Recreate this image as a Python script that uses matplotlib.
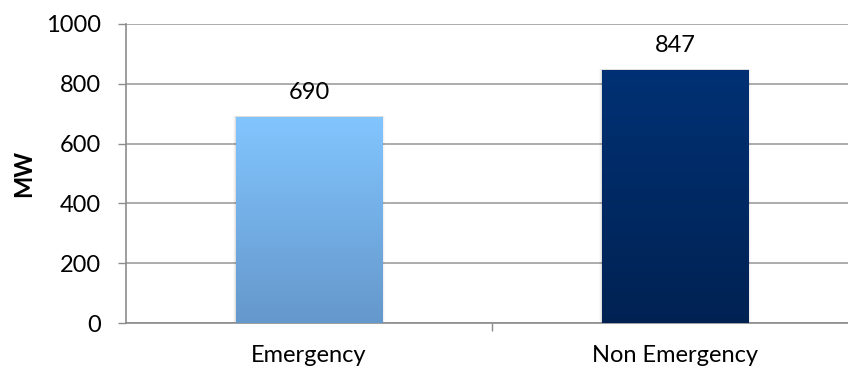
import numpy as np
import matplotlib.pyplot as plt
from matplotlib.colors import LinearSegmentedColormap

categories = ["Emergency", "Non Emergency"]
values = [690, 847]
yticks = [0, 200, 400, 600, 800, 1000]
top_colors = ["#82C5FF", "#003174"]
bottom_colors = ["#6598CB", "#002253"]

plt.rcParams['font.family'] = ['Lato', 'DejaVu Sans']

fig = plt.figure(figsize=(8.48, 3.71), dpi=100)
ax = fig.add_axes([126 / 848, 1 - 323 / 371, (858 - 126) / 848, (323 - 24) / 371])

x = np.arange(len(categories))
bars = ax.bar(x, values, width=0.40, color="none", edgecolor="none", zorder=3)

grad = np.linspace(0, 1, 256).reshape(-1, 1)
for b, v, c0, c1 in zip(bars, values, top_colors, bottom_colors):
    cmap = LinearSegmentedColormap.from_list("g", [c1, c0])
    x0, w, h = b.get_x(), b.get_width(), b.get_height()
    # soft shadow
    for i, a in enumerate([0.07, 0.04, 0.02]):
        d = 0.003 * (i + 1)
        ax.add_patch(plt.Rectangle((x0 - d, 0), w + 2 * d, h + d * 400,
                                   facecolor="black", alpha=a, edgecolor="none", zorder=2))
    im = ax.imshow(grad, extent=[x0, x0 + w, 0, h], origin="lower", cmap=cmap,
                   aspect="auto", zorder=4)
    im.set_clip_path(b)
    ax.text(x0 + w / 2, h + 45, str(v), ha="center", va="bottom",
            fontsize=17, color="#000000", zorder=5)

ax.set_xlim(-0.5, len(categories) - 0.5)
ax.set_ylim(0, 1000)
ax.set_yticks(yticks)
ax.tick_params(axis="y", labelsize=17, length=6, color="#8C8C8C", width=1, pad=12)
ax.set_xticks(x)
ax.set_xticklabels(categories)
ax.tick_params(axis="x", which="major", length=0, labelsize=17, pad=16)
ax.set_xticks([0.5], minor=True)
ax.tick_params(axis="x", which="minor", length=6, color="#8C8C8C", width=1)
ax.grid(axis="y", color="#9E9E9E", linewidth=1.2, zorder=0)
ax.set_axisbelow(True)
for s in ["top", "right"]:
    ax.spines[s].set_visible(False)
for s in ["left", "bottom"]:
    ax.spines[s].set_color("#8C8C8C")
    ax.spines[s].set_linewidth(1.2)
ax.set_ylabel("MW", fontsize=17, fontweight="bold", labelpad=8)

fig.savefig("out.png", dpi=100)
